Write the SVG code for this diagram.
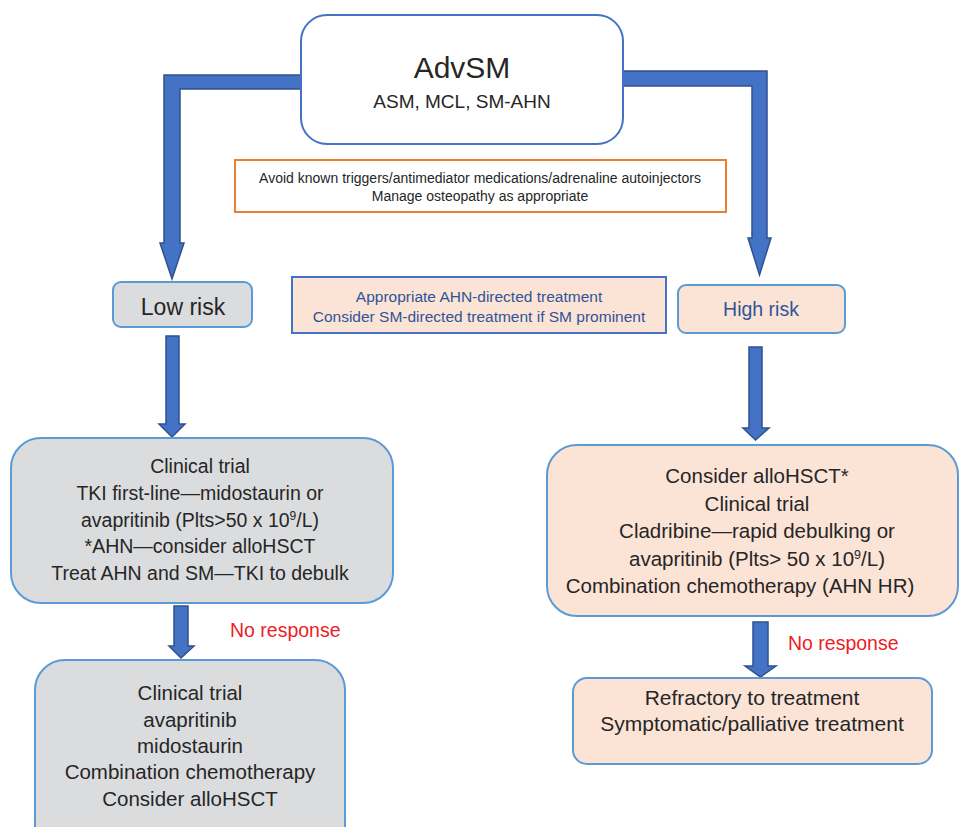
<svg xmlns="http://www.w3.org/2000/svg" width="960" height="827" viewBox="0 0 960 827">
<style>
  text { font-family: "Liberation Sans", Arial, sans-serif; text-anchor: middle; fill: #262626; }
  .arrow { fill: #4472C4; stroke: #2F528F; stroke-width: 1.5; stroke-linejoin: miter; }
  .gray { fill: #DBDCDE; stroke: #5B9BD5; stroke-width: 2; }
  .peach { fill: #FBE3D6; stroke: #5B9BD5; stroke-width: 2; }
  .body { font-size: 19.5px; }
  .red { fill: #EE1C25; font-size: 19.5px; text-anchor: start; }
  .blue { fill: #2F5597; }
</style>
<rect width="960" height="827" fill="#ffffff"/>

<g id="connectors">
  <polygon class="arrow" points="301,75 164,75 164,243 160,243 172,279 184,243 180,243 180,89 301,89"/>
  <polygon class="arrow" points="623,71 767,71 767,238 771,238 759.5,275 748,238 752,238 752,86 623,86"/>
  <polygon class="arrow" points="166,336 179,336 179,424 185,424 172,437 159,424 166,424"/>
  <polygon class="arrow" points="749,347 762,347 762,428 769,428 755.5,440 743,428 749,428"/>
  <polygon class="arrow" points="174,606 188,606 188,646 194,646 181,658 169,646 174,646"/>
  <polygon class="arrow" points="753,622 768,622 768,666 776,666 760.5,677 745,666 753,666"/>
  <text class="red" x="230" y="637">No response</text>
  <text class="red" x="788" y="650">No response</text>
</g>

<g id="advsm">
  <rect x="301" y="15" width="322" height="129" rx="26" ry="26" fill="#ffffff" stroke="#4472C4" stroke-width="2"/>
  <text x="462" y="78" font-size="30">AdvSM</text>
  <text x="462" y="108" font-size="19">ASM, MCL, SM-AHN</text>
</g>

<g id="general">
  <rect x="235" y="160" width="491" height="52" fill="#ffffff" stroke="#ED7D31" stroke-width="2"/>
  <text x="480" y="183" font-size="14">Avoid known triggers/antimediator medications/adrenaline autoinjectors</text>
  <text x="480" y="201" font-size="14">Manage osteopathy as appropriate</text>
</g>

<g id="low-risk">
  <rect class="gray" x="113" y="282" width="139" height="45" rx="8" ry="8"/>
  <text x="183" y="315" font-size="23">Low risk</text>
</g>

<g id="ahn">
  <rect x="292" y="277" width="374" height="56" fill="#FBE3D6" stroke="#4472C4" stroke-width="2"/>
  <text class="blue" x="479" y="302" font-size="15.5">Appropriate AHN-directed treatment</text>
  <text class="blue" x="479" y="322" font-size="15.5">Consider SM-directed treatment if SM prominent</text>
</g>

<g id="high-risk">
  <rect class="peach" x="678" y="285" width="167" height="48" rx="8" ry="8"/>
  <text class="blue" x="761" y="316" font-size="19.5">High risk</text>
</g>

<g id="low-treatment">
  <rect class="gray" x="11" y="438" width="382" height="165" rx="30" ry="30"/>
  <text class="body" x="200" y="473">Clinical trial</text>
  <text class="body" x="200" y="500">TKI first-line—midostaurin or</text>
  <text class="body" x="200" y="527">avapritinib (Plts&gt;50 x 10<tspan font-size="12" dy="-7">9</tspan><tspan dy="7">/L)</tspan></text>
  <text class="body" x="200" y="553">*AHN—consider alloHSCT</text>
  <text class="body" x="200" y="580">Treat AHN and SM—TKI to debulk</text>
</g>

<g id="low-second">
  <rect class="gray" x="35" y="660" width="310" height="200" rx="30" ry="30"/>
  <text x="190" y="700" font-size="20.5">Clinical trial</text>
  <text x="190" y="727" font-size="20.5">avapritinib</text>
  <text x="190" y="753" font-size="20.5">midostaurin</text>
  <text x="190" y="779" font-size="20.5">Combination chemotherapy</text>
  <text x="190" y="806" font-size="20.5">Consider alloHSCT</text>
</g>

<g id="high-treatment">
  <rect class="peach" x="547" y="445" width="411" height="171" rx="30" ry="30"/>
  <text x="757" y="483" font-size="20.5">Consider alloHSCT*</text>
  <text x="757" y="511" font-size="20.5">Clinical trial</text>
  <text x="757" y="538" font-size="20.5">Cladribine—rapid debulking or</text>
  <text x="757" y="566" font-size="20.5">avapritinib (Plts&gt; 50 x 10<tspan font-size="12.5" dy="-7">9</tspan><tspan dy="7">/L)</tspan></text>
  <text x="740" y="593" font-size="20.5">Combination chemotherapy (AHN HR)</text>
</g>

<g id="refractory">
  <rect class="peach" x="573" y="678" width="359" height="86" rx="14" ry="14"/>
  <text x="752" y="705" font-size="21">Refractory to treatment</text>
  <text x="752" y="731" font-size="21">Symptomatic/palliative treatment</text>
</g>
</svg>
